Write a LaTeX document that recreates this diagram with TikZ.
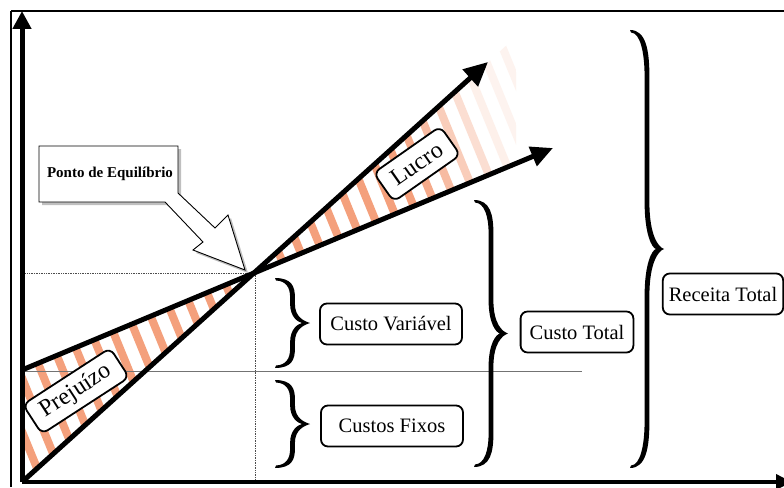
\documentclass[tikz,border=0pt]{standalone}
\usepackage{fontspec}
\setmainfont{Liberation Serif}
\usetikzlibrary{arrows.meta,shadows}
\definecolor{stripec}{HTML}{F4A07C}

% right-pointing curly brace: x, ytop, ybottom, width
\newcommand\BraceR[4]{%
  \pgfmathsetmacro\bx{#1}%
  \pgfmathsetmacro\bt{#2}%
  \pgfmathsetmacro\bb{#3}%
  \pgfmathsetmacro\bm{(#2+#3)/2}%
  \pgfmathsetmacro\bh{12+0.08*(#3-#2)}%
  \pgfmathsetmacro\ba{#1+0.5*#4-2.4}%
  \pgfmathsetmacro\bbr{#1+0.5*#4+2.4}%
  \pgfmathsetmacro\bX{#1+#4}%
  \fill (\bx,\bt) .. controls ({\bbr-3},\bt) and (\bbr,{\bt+0.45*\bh}) .. (\bbr,{\bt+\bh})
   -- (\bbr,{\bm-\bh}) .. controls (\bbr,{\bm-0.3*\bh}) and ({\bX-6},{\bm-2}) .. (\bX,\bm)
   .. controls ({\bX-6},{\bm+2}) and (\bbr,{\bm+0.3*\bh}) .. (\bbr,{\bm+\bh})
   -- (\bbr,{\bb-\bh}) .. controls (\bbr,{\bb-0.45*\bh}) and ({\bbr-3},\bb) .. (\bx,\bb)
   -- ({\bx+1},{\bb-2.5}) .. controls ({\ba-4},{\bb-3}) and (\ba,{\bb-0.5*\bh}) .. (\ba,{\bb-\bh})
   -- (\ba,{\bm+\bh}) .. controls (\ba,{\bm+0.3*\bh}) and ({\bX-12},{\bm+1}) .. ({\bX-8},\bm)
   .. controls ({\bX-12},{\bm-1}) and (\ba,{\bm-0.3*\bh}) .. (\ba,{\bm-\bh})
   -- (\ba,{\bt+\bh}) .. controls (\ba,{\bt+0.5*\bh}) and ({\ba-4},{\bt+3}) .. ({\bx+1},{\bt+2.5}) -- cycle;
}

\begin{document}
\begin{tikzpicture}[x=1pt,y=-1pt,
  lbl/.style={draw, line width=1.8pt, rounded corners=7pt, fill=white, inner xsep=9pt, inner ysep=0pt, minimum height=41pt, font=\fontsize{20.5}{23}\selectfont},
  rlbl/.style={lbl, inner xsep=12pt, minimum height=35pt, font=\fontsize{24}{26}\selectfont},
  stripe/.style={stripec, line width=8pt},
  heavy/.style={line width=5pt},
  guide/.style={densely dotted, line width=0.7pt, black!70},
]
\clip (0,0) rectangle (784,487);
\fill[white] (0,0) rectangle (784,487);
% frame
\draw[line width=1.4pt] (11,487) -- (11,11);
\draw[line width=2pt] (11,11) -- (784,11);

% key points
\coordinate (O) at (22,482);
\coordinate (BE) at (255,273);
\coordinate (RT) at (488,62);
\coordinate (C0) at (22,370);
\coordinate (CTip) at (553,148);
\coordinate (YT) at (22,11);
\coordinate (XT) at (792,482);
\coordinate (FO) at (22,371);
\coordinate (F1) at (582,371);
\coordinate (DL) at (22,273);
\coordinate (DB) at (255,482);

% stripes: loss region
\begin{scope}
  \clip (22,482) -- (255,273) -- (22,370) -- cycle;
  \foreach \k in {-7,...,8} {
    \pgfmathsetmacro\xs{89+22*\k}
    \draw[stripe] ({\xs-0.41*273},0) -- ({\xs+0.41*214},487);
  }
\end{scope}
% stripes: profit region (fading)
\begin{scope}
  \clip (255,273) -- (508,44) -- (516,58) -- (516,164) -- cycle;
  \foreach \k in {7,...,24} {
    \pgfmathsetmacro\xs{89+22*\k}
    \pgfmathsetmacro\op{min(1,max(0.12,1-(\xs-50-400)/120))}
    \draw[stripe, opacity=\op] ({\xs-0.41*273},0) -- ({\xs+0.41*214},487);
  }
\end{scope}

% guide lines
\draw[guide] (DL) -- (BE) -- (DB);
\draw[line width=0.8pt, black!55] (FO) -- (F1);

% main lines and axes
\draw[heavy, -{Triangle[length=24pt,width=22pt]}] (O) -- (RT);
\draw[heavy, -{Triangle[length=22pt,width=20pt]}] (C0) -- (CTip);
\draw[heavy, -{Triangle[length=18pt,width=18pt]}] (O) -- (YT);
\draw[line width=3.5pt, -{Triangle[length=16pt,width=15pt]}] (O) -- (XT);

% labels
\node[rlbl, rotate=35] (lucro) at (417,164) {Lucro};
\node[rlbl, rotate=33] (prej) at (76,391) {Prejuízo};
\node[lbl, minimum width=142pt] (cv) at (391,324) {Custo Variável};
\node[lbl, minimum width=142pt] (cf) at (392,426) {Custos Fixos};
\node[lbl, minimum width=112pt] (ct) at (577,332) {Custo Total};
\node[lbl, inner xsep=6pt] (rt) at (723,294) {Receita Total};

% braces
\BraceR{275}{278}{368}{35}
\BraceR{275}{380}{468}{35}
\BraceR{474}{200}{467}{34}
\BraceR{630}{30}{468}{34}

% callout
\path[draw=black, line width=0.9pt, fill=white,
      drop shadow={shadow xshift=3pt, shadow yshift=-3pt, fill=black, opacity=0.25}]
  (39,146) -- (178,146) -- (178,193) -- (215,228) -- (228,215) -- (245,270)
  -- (193,250) -- (203,242) -- (165,202) -- (39,202) -- cycle;
\node[font=\bfseries\fontsize{15}{17}\selectfont] (pe) at (110,174) {Ponto de Equilíbrio};
\end{tikzpicture}
\end{document}
